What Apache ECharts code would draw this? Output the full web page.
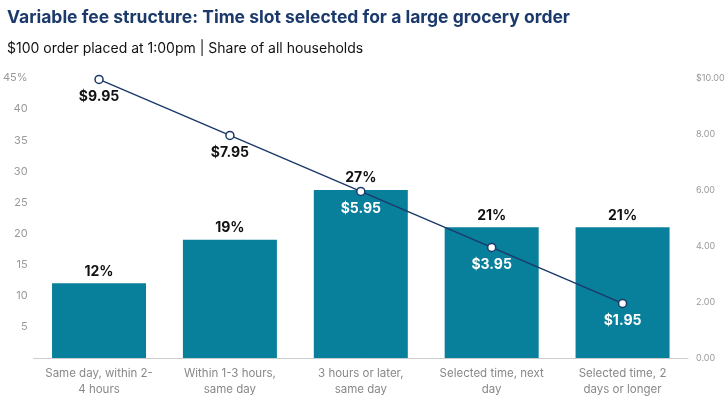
<!DOCTYPE html>
<html><head><meta charset="utf-8">
<script src="https://cdn.jsdelivr.net/npm/echarts@6/dist/echarts.min.js"></script>
<style>html,body{margin:0;padding:0;background:#fff}#c{width:728px;height:400px}</style>
</head><body><div id="c"></div>
<script>
const categories = ["Same day, within 2-\n4 hours","Within 1-3 hours,\nsame day","3 hours or later,\nsame day","Selected time, next\nday","Selected time, 2\ndays or longer"];
const shares = [12, 19, 27, 21, 21];
const fees = [9.95, 7.95, 5.95, 3.95, 1.95];
const feeLabelColors = ["#111","#111","#fff","#fff","#fff"];
const chart = echarts.init(document.getElementById('c'));
chart.setOption({
  animation:false,
  textStyle:{fontFamily:'Inter, "Noto Sans", sans-serif'},
  title:[{text:'Variable fee structure: Time slot selected for a large grocery order',left:2,top:4,textStyle:{fontSize:17.5,fontWeight:'bold',color:'#1b3a6b'}},
         {text:'$100 order placed at 1:00pm | Share of all households',left:2,top:37,textStyle:{fontSize:14,fontWeight:'normal',color:'#111'}}],
  grid:{left:32,right:40,top:78,bottom:42},
  xAxis:{type:'category',data:categories,axisTick:{show:false},axisLine:{lineStyle:{color:'#ccc'}},
    axisLabel:{color:'#888',fontSize:11.5,lineHeight:16,interval:0}},
  yAxis:[{type:'value',min:0,max:45,interval:5,splitLine:{show:false},
    axisLabel:{color:'#999',fontSize:11,margin:6,formatter:v=>v===0?'':(v===45?v+'%':v)}},
    {type:'value',min:0,max:10,interval:2,splitLine:{show:false},
    axisLabel:{color:'#999',fontSize:9,margin:8,formatter:v=>v===10?'$10.00':v.toFixed(2)}}],
  series:[{type:'bar',data:shares,barWidth:94,itemStyle:{color:'#087f9b'},
    label:{show:true,position:'top',formatter:'{c}%',color:'#111',fontSize:14,fontWeight:'bold'}},
   {type:'line',yAxisIndex:1,data:fees.map((v,i)=>({value:v,label:{color:feeLabelColors[i]}})),
    lineStyle:{color:'#1b3a6b',width:1.5},itemStyle:{color:'#fff',borderColor:'#1b3a6b',borderWidth:1.5},
    symbol:'circle',symbolSize:8,
    label:{show:true,position:'bottom',distance:6,formatter:p=>'$'+p.value.toFixed(2),fontSize:14,fontWeight:'bold'}}]
});
</script></body></html>
